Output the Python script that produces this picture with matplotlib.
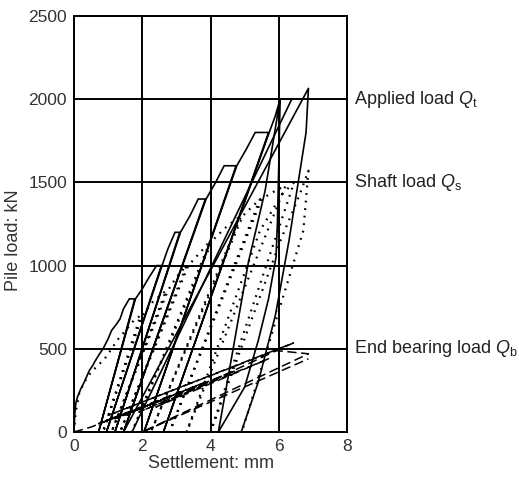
import matplotlib
matplotlib.use("Agg")
import matplotlib.pyplot as plt

plt.rcParams['font.family'] = ['Liberation Sans', 'DejaVu Sans']
plt.rcParams['mathtext.fontset'] = 'custom'
plt.rcParams['mathtext.rm'] = 'Liberation Sans'
plt.rcParams['mathtext.it'] = 'Liberation Sans:italic'

# Applied load Q_t (solid): settlement (mm) and load (kN), load/unload cycles
qt_settle = [0, 0.02, 0.05, 0.1, 0.2, 0.3, 0.45, 0.55, 0.6, 0.75, 0.85, 1.0, 1.1, 1.25, 1.35, 1.45, 1.62, 1.78,
             0.72, 1.80, 2.0, 2.2, 2.42, 2.56,
             0.95, 2.58, 2.75, 2.96, 3.10,
             1.20, 3.12, 3.40, 3.64, 3.85,
             1.45, 3.87, 4.15, 4.40, 4.75,
             2.05, 4.77, 5.05, 5.31, 5.70,
             2.62, 5.72, 5.90, 6.04, 6.00, 5.96, 5.92, 5.70, 5.40, 5.00, 4.23,
             4.62, 5.11, 5.60, 6.04, 6.38]
qt_load = [0, 100, 170, 210, 260, 300, 370, 400, 420, 470, 500, 560, 610, 650, 680, 740, 800, 800,
           0, 800, 860, 930, 1000, 1000,
           0, 1000, 1100, 1200, 1200,
           0, 1200, 1300, 1400, 1400,
           0, 1400, 1500, 1600, 1600,
           0, 1600, 1700, 1800, 1800,
           0, 1800, 1900, 2000, 1600, 1250, 1050, 800, 550, 270, 0,
           450, 1020, 1450, 2000, 2000]
# additional applied-load reload branches to the final peaks
qt2_settle = [1.70, 6.38]
qt2_load = [0, 2000]
qt3_settle = [1.45, 6.87, 6.80, 6.57, 6.30, 5.90, 5.40, 4.90]
qt3_load = [0, 2065, 1800, 1500, 1150, 700, 300, 0]

# Shaft load Q_s (dotted)
qs_settle = [0, 0.05, 0.15, 0.3, 0.5, 0.7, 0.9, 1.1, 1.3, 1.55, 1.75, 1.95,
             0.85, 2.0, 2.3, 2.7,
             1.10, 2.75, 3.0, 3.3,
             1.35, 3.35, 3.7, 4.0,
             1.70, 4.05, 4.5, 4.9,
             2.25, 4.95, 5.25, 5.45,
             2.80, 5.50, 5.90, 6.20,
             3.30, 5.45, 6.10, 6.45,
             4.00, 6.05, 6.60, 6.87,
             6.72, 4.92]
qs_load = [0, 120, 230, 300, 360, 400, 440, 500, 560, 620, 670, 700,
           0, 700, 780, 850,
           0, 850, 930, 1000,
           0, 1000, 1080, 1150,
           0, 1150, 1240, 1300,
           0, 1300, 1360, 1400,
           0, 1400, 1450, 1480,
           0, 1210, 1430, 1500,
           0, 1150, 1420, 1570,
           1210, 0]

# End bearing load Q_b (dashed)
qb_settle = [0, 0.5, 1.0, 1.78, 0.72, 2.56, 0.95, 3.10, 1.20, 3.85, 1.45, 4.75, 1.90, 5.70,
             2.40, 6.04, 6.43, 1.00, 5.90, 6.87, 2.00, 6.87]
qb_load = [0, 30, 70, 130, 50, 190, 70, 240, 80, 300, 100, 370, 120, 440,
           150, 500, 535, 100, 490, 470, 0, 440]

x_ticks = [0, 2, 4, 6, 8]
y_ticks = [0, 500, 1000, 1500, 2000, 2500]

labels = ["Applied load $Q_\\mathrm{t}$", "Shaft load $Q_\\mathrm{s}$", "End bearing load $Q_\\mathrm{b}$"]
label_loads = [2000, 1500, 500]

fig = plt.figure(figsize=(5.19, 4.84), dpi=100)
ax = fig.add_axes([0.1426, 0.1074, 0.5260, 0.8596])

ax.plot(qt_settle, qt_load, color='black', lw=1.2, solid_joinstyle='miter')
ax.plot(qt2_settle, qt2_load, color='black', lw=1.2)
ax.plot(qt3_settle, qt3_load, color='black', lw=1.2)
ax.plot(qs_settle, qs_load, color='black', lw=1.6, linestyle=(0, (0.8, 2.6)))
ax.plot(qb_settle, qb_load, color='black', lw=1.1, linestyle=(0, (6, 3)))

ax.set_xlim(0, 8)
ax.set_ylim(0, 2500)
ax.set_xticks(x_ticks)
ax.set_yticks(y_ticks)
ax.grid(True, color='black', lw=1.4)
ax.set_axisbelow(True)
for s in ax.spines.values():
    s.set_linewidth(1.4)
ax.tick_params(length=0, pad=5, labelsize=12.5, labelcolor='#333333')
ax.set_xlabel("Settlement: mm", fontsize=13, color='#333333', labelpad=1)
ax.set_ylabel("Pile load: kN", fontsize=13, color='#333333')
ax.yaxis.set_label_coords(-0.19, 0.46)

for lab, yv in zip(labels, label_loads):
    ax.annotate(lab, xy=(1.0, yv), xycoords=('axes fraction', 'data'),
                xytext=(5, 0), textcoords='offset points', va='center', ha='left',
                fontsize=13, color='#222222', annotation_clip=False)

fig.savefig("out.png", dpi=100)
